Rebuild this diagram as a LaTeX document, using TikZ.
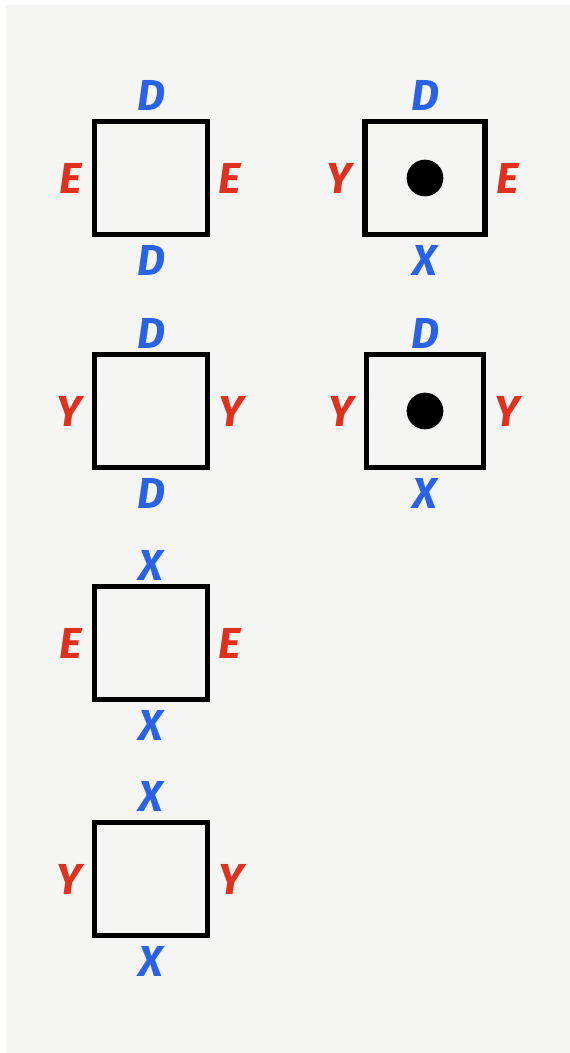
\documentclass[tikz,border=0pt]{standalone}
\usepackage{fontspec}
\setsansfont{Fira Sans}
\usepackage{xcolor}
\usetikzlibrary{positioning}
\definecolor{penblue}{HTML}{2A62E6}
\definecolor{penred}{HTML}{E0301E}
\definecolor{paper}{HTML}{F5F5F4}

\begin{document}
\begin{tikzpicture}[
  x=0.03cm, y=-0.03cm,
  tile/.style={draw=black, line width=4.5pt, minimum height=3.4cm, inner sep=0},
  side/.style={font=\sffamily\bfseries\itshape\fontsize{37}{37}\selectfont, inner sep=0},
  vlab/.style={side, text=penblue},
  hlab/.style={side, text=penred},
  spot/.style={circle, fill=black, minimum size=1.1cm, inner sep=0}
]
\useasboundingbox (0,0) rectangle (570,1053);
\fill[white] (0,0) rectangle (570,1053);
\fill[paper] (6,5) rectangle (570,1053);
% tiles: name/centre/width/top/left/right/bottom/dot/top gap
\foreach \nm/\cx/\cy/\tw/\up/\lt/\rt/\dn/\pip/\gap in {
    ee/151/178/3.4/D/E/E/D/0/2.5, ye/425/178/3.6/D/Y/E/X/1/2.5,
    yy/151/411/3.4/D/Y/Y/D/0/1, dy/425/411/3.5/D/Y/Y/X/1/1,
    xe/151/643/3.4/X/E/E/X/0/1,
    xy/151/879/3.4/X/Y/Y/X/0/2.5} {
  \node[tile, minimum width=\tw cm] (\nm) at (\cx,\cy) {};
  \node[vlab, above=\gap mm of \nm] (\nm-t) {\up};
  \node[vlab, below=2.5mm of \nm] (\nm-b) {\dn};
  \node[hlab, left=3mm of \nm] (\nm-l) {\lt};
  \node[hlab, right=2.5mm of \nm] (\nm-r) {\rt};
  \ifnum\pip=1 \node[spot] (\nm-dot) at (\nm) {}; \fi
}
\end{tikzpicture}
\end{document}
